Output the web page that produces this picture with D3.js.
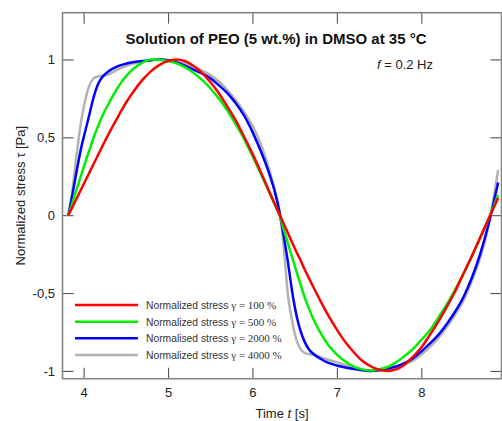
<!DOCTYPE html>
<html>
<head>
<meta charset="utf-8">
<script src="https://cdn.jsdelivr.net/npm/d3@7"></script>
<style>
  body { margin: 0; background: #fff; }
  svg { display: block; font-family: "Liberation Sans", Arial, sans-serif; }
</style>
</head>
<body>
<svg width="502" height="421"></svg>
<script>
// time [s]
var times = [3.82, 3.87, 3.92, 3.97, 4.02, 4.07, 4.12, 4.17, 4.22,
  4.3, 4.4, 4.5, 4.6, 4.7, 4.8, 4.9, 5.0, 5.1, 5.2, 5.3, 5.4, 5.5, 5.6, 5.7, 5.8, 5.9, 6.0, 6.1, 6.2,
  6.27, 6.32,
  6.37, 6.42, 6.47, 6.52, 6.57, 6.62, 6.67, 6.72,
  6.8, 6.9, 7.0, 7.1, 7.2, 7.3, 7.4, 7.5, 7.6, 7.7, 7.8, 7.9, 8.0, 8.1, 8.2, 8.3, 8.4, 8.5, 8.6, 8.7, 8.8,
  8.91];

// normalized stress, one array per strain amplitude
var stress100 = [0, 0.055, 0.11, 0.165, 0.22, 0.275, 0.33, 0.385, 0.44,
  0.525, 0.625, 0.72, 0.80, 0.87, 0.925, 0.965, 0.99, 1.0, 0.99, 0.96, 0.915, 0.855, 0.785, 0.70, 0.61, 0.505, 0.395, 0.275, 0.15,
  0.065, 0.005,
  -0.055, -0.115, -0.175, -0.235, -0.29, -0.35, -0.405, -0.46,
  -0.545, -0.645, -0.735, -0.815, -0.88, -0.935, -0.97, -0.993, -1.0, -0.99, -0.96, -0.91, -0.85, -0.77, -0.685, -0.59, -0.49, -0.375, -0.26, -0.14, -0.02,
  0.11];
var stress500 = [0, 0.085, 0.17, 0.255, 0.34, 0.42, 0.50, 0.57, 0.635,
  0.72, 0.815, 0.89, 0.945, 0.98, 1.0, 0.998, 0.99, 0.975, 0.95, 0.915, 0.87, 0.815, 0.75, 0.675, 0.585, 0.49, 0.38, 0.265, 0.145,
  0.06, 0.0,
  -0.09, -0.18, -0.27, -0.36, -0.445, -0.53, -0.60, -0.665,
  -0.75, -0.835, -0.895, -0.94, -0.972, -0.99, -0.998, -0.99, -0.975, -0.945, -0.905, -0.86, -0.80, -0.74, -0.66, -0.575, -0.48, -0.375, -0.265, -0.145, -0.02,
  0.13];
var stress2000 = [0, 0.14, 0.29, 0.43, 0.54, 0.65, 0.76, 0.84, 0.886,
  0.925, 0.955, 0.972, 0.983, 0.99, 0.995, 1.0, 0.995, 0.98, 0.96, 0.935, 0.91, 0.88, 0.835, 0.785, 0.72, 0.64, 0.535, 0.41, 0.265,
  0.14, 0.02,
  -0.13, -0.30, -0.49, -0.64, -0.745, -0.815, -0.862, -0.89,
  -0.92, -0.948, -0.965, -0.978, -0.988, -0.995, -1.0, -0.995, -0.985, -0.972, -0.95, -0.92, -0.875, -0.825, -0.77, -0.70, -0.62, -0.525, -0.40, -0.245, -0.05,
  0.21];
var stress4000 = [0, 0.17, 0.40, 0.60, 0.74, 0.835, 0.878, 0.89, 0.895,
  0.905, 0.935, 0.958, 0.975, 0.987, 0.995, 0.999, 0.997, 0.988, 0.975, 0.955, 0.93, 0.90, 0.86, 0.805, 0.74, 0.665, 0.575, 0.455, 0.29,
  0.15, 0.03,
  -0.20, -0.51, -0.68, -0.80, -0.86, -0.885, -0.892, -0.897,
  -0.91, -0.928, -0.945, -0.962, -0.977, -0.99, -0.997, -0.998, -0.99, -0.978, -0.96, -0.935, -0.895, -0.847, -0.79, -0.72, -0.64, -0.547, -0.42, -0.27, -0.06,
  0.29];

var xTicks = [4, 5, 6, 7, 8];
var yTicks = [-1, -0.5, 0, 0.5, 1];

var seriesNames = ["Normalized stress", "Normalized stress", "Normalised stress", "Normalized stress"];
var seriesGamma = ["\u03b3 = 100 %", "\u03b3 = 500 %", "\u03b3 = 2000 %", "\u03b3 = 4000 %"];
var seriesColors = ["#ff0000", "#00ee00", "#0000ff", "#b2b2b2"];
var seriesValues = [stress100, stress500, stress2000, stress4000];

function draw() {
  var svg = d3.select("svg");
  var pLeft = 62.5, pRight = 501.5, pTop = 12.7, pBottom = 378.7;

  var x = d3.scaleLinear().domain([3.75, 8.95]).range([pLeft, pRight]);
  var y = d3.scaleLinear().domain([-1.05, 1.3]).range([pBottom, pTop]);

  var commaFmt = d3.formatLocale({decimal: ",", thousands: ".", grouping: [3], currency: ["", ""], minus: "-"}).format("~g");

  var tickLen = 11;

  var gL = svg.append("g").attr("transform", "translate(" + pLeft + ",0)")
    .call(d3.axisLeft(y).tickValues(yTicks).tickSize(-tickLen).tickPadding(7.5).tickFormat(commaFmt));
  var gR = svg.append("g").attr("transform", "translate(" + pRight + ",0)")
    .call(d3.axisRight(y).tickValues(yTicks).tickSize(-tickLen).tickFormat(""));
  var gB = svg.append("g").attr("transform", "translate(0," + pBottom + ")")
    .call(d3.axisBottom(x).tickValues(xTicks).tickSize(-tickLen).tickPadding(9).tickFormat(d3.format("d")));
  var gT = svg.append("g").attr("transform", "translate(0," + pTop + ")")
    .call(d3.axisTop(x).tickValues(xTicks).tickSize(-tickLen).tickFormat(""));

  [gL, gR, gB, gT].forEach(function(g) {
    g.select(".domain").remove();
    g.selectAll(".tick line").attr("stroke", "#555").attr("stroke-width", 1.1);
    g.selectAll(".tick text").attr("fill", "#222").style("font-size", "13px")
      .style("font-family", "'Liberation Sans', Arial, sans-serif");
  });

  // frame
  svg.append("rect")
    .attr("x", pLeft).attr("y", pTop)
    .attr("width", pRight - pLeft).attr("height", pBottom - pTop)
    .attr("fill", "none").attr("stroke", "#858585").attr("stroke-width", 1.6);

  var line = d3.line()
    .x(function(d) { return x(d[0]); })
    .y(function(d) { return y(d[1]); })
    .curve(d3.curveMonotoneX);

  // draw grey first so red ends up on top
  [3, 2, 1, 0].forEach(function(i) {
    svg.append("path")
      .datum(times.map(function(t, k) { return [t, seriesValues[i][k]]; }))
      .attr("fill", "none")
      .attr("stroke", seriesColors[i])
      .attr("stroke-width", 2.5)
      .attr("stroke-linejoin", "round")
      .attr("d", line);
  });

  // title
  svg.append("text")
    .attr("x", 276).attr("y", 44)
    .attr("text-anchor", "middle")
    .style("font-size", "15px").style("font-weight", "bold").attr("fill", "#111")
    .text("Solution of PEO (5 wt.%) in DMSO at 35 \u00b0C");

  var fText = svg.append("text")
    .attr("x", 377).attr("y", 68.5)
    .style("font-size", "13px").attr("fill", "#222");
  fText.append("tspan").style("font-style", "italic").text("f");
  fText.append("tspan").text(" = 0.2 Hz");

  // axis titles
  var xt = svg.append("text")
    .attr("x", (pLeft + pRight) / 2).attr("y", 418)
    .attr("text-anchor", "middle")
    .style("font-size", "13px").attr("fill", "#222");
  xt.append("tspan").text("Time ");
  xt.append("tspan").style("font-style", "italic").text("t");
  xt.append("tspan").text(" [s]");

  svg.append("text")
    .attr("transform", "translate(25," + ((pTop + pBottom) / 2) + ") rotate(-90)")
    .attr("text-anchor", "middle")
    .style("font-size", "13px").attr("fill", "#222")
    .text("Normalized stress \u03c4 [Pa]");

  // legend
  var legend = svg.append("g");
  var rowY = [305, 321.7, 338.3, 355];
  seriesNames.forEach(function(name, i) {
    legend.append("line")
      .attr("x1", 75).attr("x2", 138)
      .attr("y1", rowY[i]).attr("y2", rowY[i])
      .attr("stroke", seriesColors[i]).attr("stroke-width", 2.5);
    var t = legend.append("text")
      .attr("x", 146).attr("y", rowY[i] + 4)
      .attr("fill", "#333");
    t.append("tspan").style("font-size", "10.3px").text(name + " ");
    t.append("tspan").style("font-size", "11px")
      .style("font-family", "'Liberation Serif', 'Times New Roman', serif")
      .text(seriesGamma[i]);
  });
}

draw();
</script>
</body>
</html>
